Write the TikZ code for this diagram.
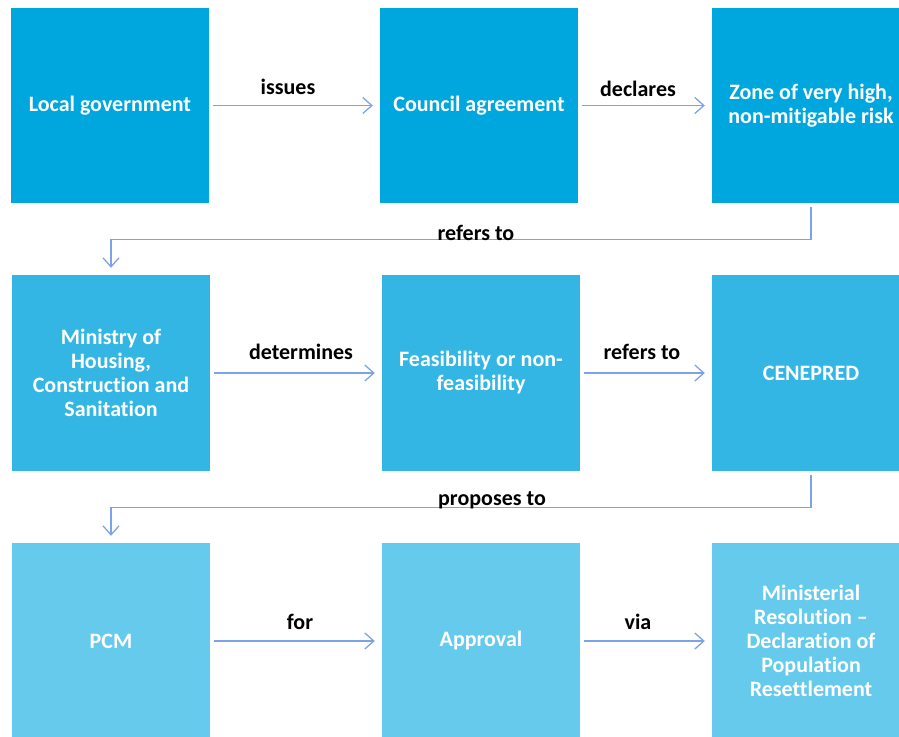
\documentclass[tikz,border=0pt]{standalone}
\usepackage{fontspec}
\setmainfont{Carlito}[Ligatures=NoCommon]
\usetikzlibrary{arrows.meta}
\definecolor{rowA}{RGB}{0,166,222}
\definecolor{rowB}{RGB}{52,182,228}
\definecolor{rowC}{RGB}{102,202,236}
\definecolor{conn}{RGB}{126,162,232}
\tikzset{
  box/.style={rectangle, minimum width=198pt, minimum height=196pt, inner sep=0pt,
    text=white, align=center, font=\fontsize{22pt}{24pt}\selectfont\bfseries},
  link/.style={draw=conn, line width=1.3pt, -{Straight Barb[length=9pt,width=16pt,line width=1.3pt]}},
  lbl/.style={text=black, anchor=base, inner sep=0pt, font=\fontsize{22pt}{24pt}\selectfont\bfseries}
}
\begin{document}
\begin{tikzpicture}[x=1pt,y=1pt]
\useasboundingbox (0,0) rectangle (899,-736);
% row 1
\node[box, fill=rowA, minimum height=195.5pt] (lg) at (110,-105.5) {Local government};
\node[box, fill=rowA, minimum height=195.5pt] (ca) at (479,-105.5) {Council agreement};
\node[box, fill=rowA, minimum height=195.5pt] (zone) at (811,-105.5) {Zone of very high,\\non-mitigable risk};
% row 2
\node[box, fill=rowB] (min) at (111,-373) {Ministry of\\Housing,\\Construction and\\Sanitation};
\node[box, fill=rowB] (feas) at (481,-373) {Feasibility or non-\\feasibility};
\node[box, fill=rowB] (cen) at (811,-373) {CENEPRED};
% row 3
\node[box, fill=rowC] (pcm) at (111,-641) {PCM};
\node[box, fill=rowC] (appr) at (481,-641) {Approval};
\node[box, fill=rowC] (mr) at (811,-641) {Ministerial\\Resolution –\\Declaration of\\Population\\Resettlement};
% row 1 arrows
\draw[link] ([xshift=4pt]lg.east) -- ([xshift=-7pt]ca.west);
\node[lbl] (l1) at (288,-94) {issues};
\draw[link] ([xshift=4pt]ca.east) -- ([xshift=-7pt]zone.west);
\node[lbl] (l2) at (638,-96) {declares};
% connector 1
\draw[link] ([yshift=-4pt]zone.south) -- ++(0,-32) -| ([yshift=7pt]min.north);
\node[lbl] (l3) at (476,-240) {refers to};
% row 2 arrows
\draw[link] ([xshift=4pt]min.east) -- ([xshift=-7pt]feas.west);
\node[lbl] (l4) at (301,-359) {determines};
\draw[link] ([xshift=4pt]feas.east) -- ([xshift=-7pt]cen.west);
\node[lbl] (l5) at (642,-359) {refers to};
% connector 2
\draw[link] ([yshift=-4pt]cen.south) -- ++(0,-32) -| ([yshift=7pt]pcm.north);
\node[lbl] (l6) at (492,-505) {proposes to};
% row 3 arrows
\draw[link] ([xshift=4pt]pcm.east) -- ([xshift=-7pt]appr.west);
\node[lbl] (l7) at (300,-629) {for};
\draw[link] ([xshift=4pt]appr.east) -- ([xshift=-7pt]mr.west);
\node[lbl] (l8) at (638,-629) {via};
\end{tikzpicture}
\end{document}
